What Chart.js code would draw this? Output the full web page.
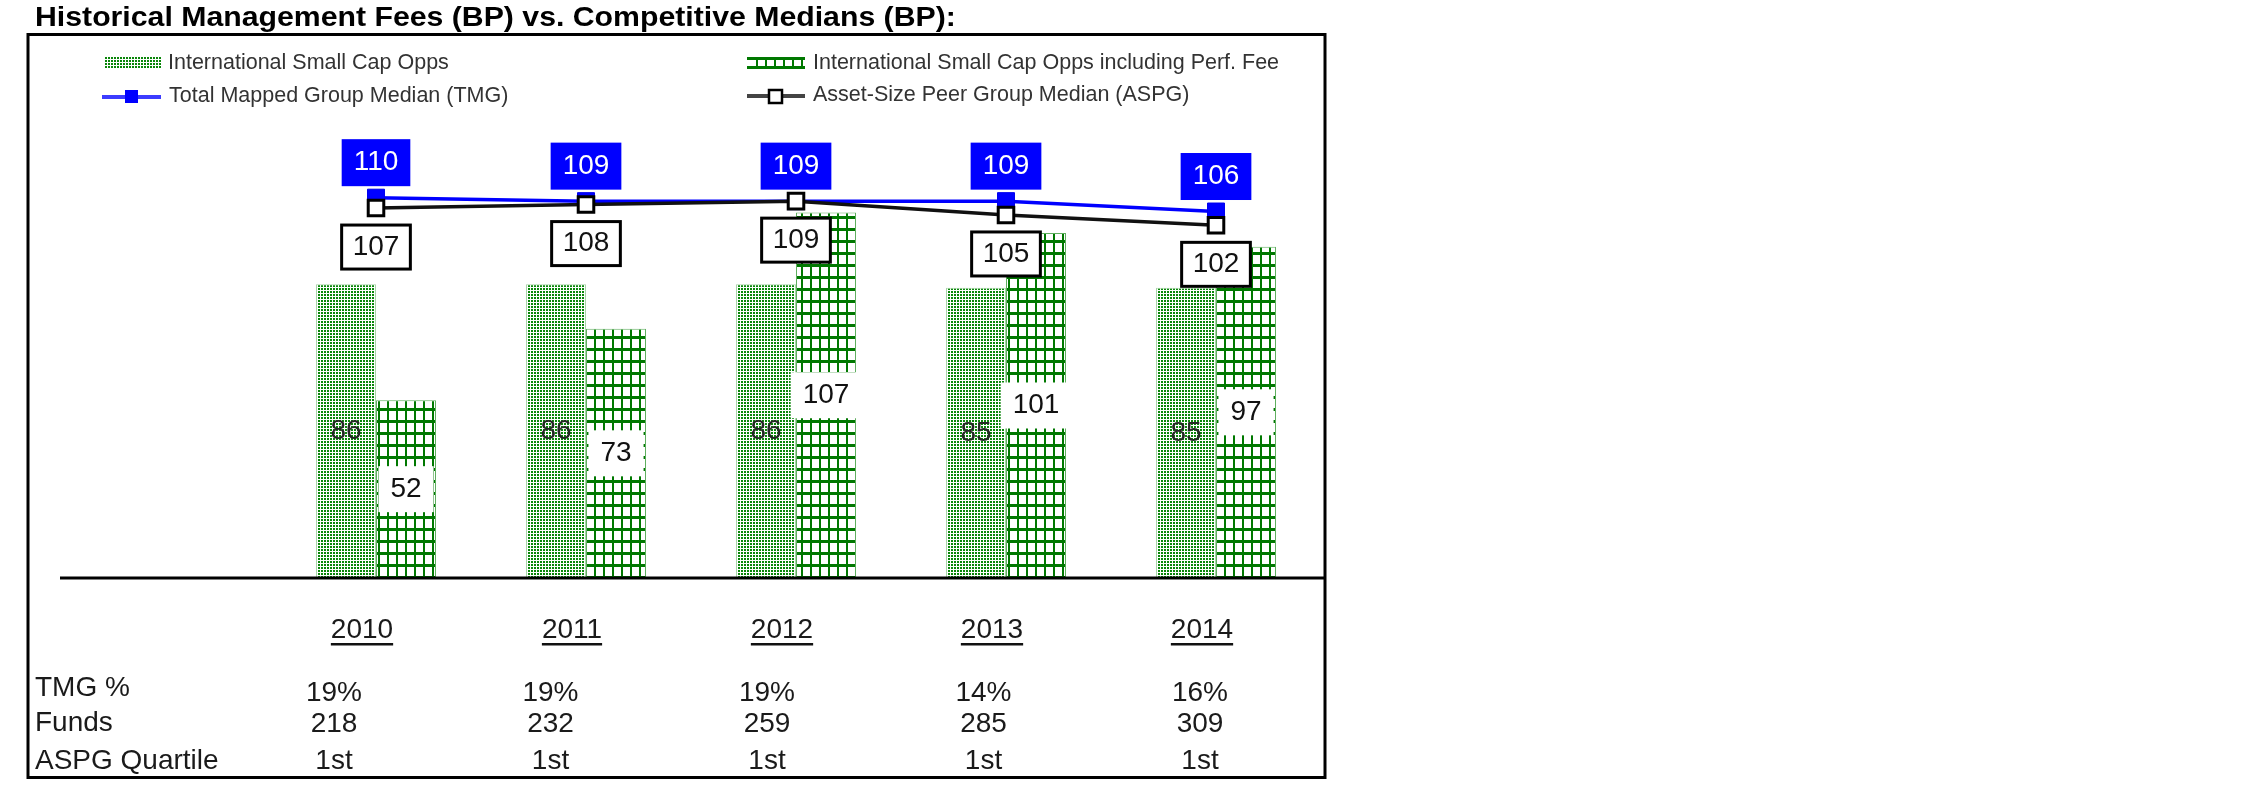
<!DOCTYPE html>
<html>
<head>
<meta charset="utf-8">
<title>Historical Management Fees (BP) vs. Competitive Medians (BP)</title>
<script src="https://cdn.jsdelivr.net/npm/chart.js@4.4.1/dist/chart.umd.min.js"></script>
<style>
    html, body { margin: 0; padding: 0; background: #fff; }
    body { width: 2251px; height: 798px; position: relative; overflow: hidden; font-family: "Liberation Sans", Arial, sans-serif; }
    #wrap { position: absolute; left: 0; top: 0; width: 2251px; height: 798px; }
    .txt { position: absolute; white-space: nowrap; line-height: 1; }
    #title { left: 35px; top: 4px; font-size: 27px; font-weight: bold; color: #000; transform: scaleX(1.12); transform-origin: left top; }
    .leg { font-size: 21.5px; color: #333; }
    .row { font-size: 28px; color: #1a1a1a; }
    .val { width: 140px; text-align: center; }
</style>
</head>
<body>
<div id="wrap"><canvas id="myChart"></canvas></div>
<div id="title" class="txt">Historical Management Fees (BP) vs. Competitive Medians (BP):</div>
<div id="overlay"></div>

<script>
// chart data
const years = ['2010', '2011', '2012', '2013', '2014'];
const intlSmallCap = [86, 86, 86, 85, 85];
const intlSmallCapPerf = [52, 73, 107, 101, 97];
const tmgMedian = [110, 109, 109, 109, 106];
const aspgMedian = [107, 108, 109, 105, 102];

// table under the chart
const rowNames = ['TMG %', 'Funds', 'ASPG Quartile'];
const tmgPct = ['19%', '19%', '19%', '14%', '16%'];
const funds = ['218', '232', '259', '285', '309'];
const aspgQuartile = ['1st', '1st', '1st', '1st', '1st'];

const seriesNames = [
    'International Small Cap Opps',
    'International Small Cap Opps including Perf. Fee',
    'Total Mapped Group Median (TMG)',
    'Asset-Size Peer Group Median (ASPG)'
];

const FONT = '"Liberation Sans", Arial, sans-serif';

// fill patterns for the two bar series
const dotPattern = () => {
    const c = document.createElement('canvas');
    c.width = 3; c.height = 3;
    const g = c.getContext('2d');
    g.fillStyle = '#ffffff';
    g.fillRect(0, 0, 3, 3);
    g.fillStyle = '#0a860a';
    g.fillRect(0, 0, 2, 2);
    return g.createPattern(c, 'repeat');
}

const gridPattern = () => {
    const c = document.createElement('canvas');
    c.width = 9; c.height = 12;
    const g = c.getContext('2d');
    g.fillStyle = '#ffffff';
    g.fillRect(0, 0, 9, 12);
    g.fillStyle = '#007800';
    g.fillRect(0, 0, 2, 12);
    g.fillRect(0, 0, 9, 3);
    return g.createPattern(c, 'repeat');
}

const dots = dotPattern();
const grid = gridPattern();

// html legend text + table text
const overlay = document.getElementById('overlay');
const addText = (text, cls, left, top) => {
    const d = document.createElement('div');
    d.className = 'txt ' + cls;
    d.textContent = text;
    d.style.left = left + 'px';
    d.style.top = top + 'px';
    overlay.appendChild(d);
}

addText(seriesNames[0], 'leg', 168, 51.5);
addText(seriesNames[1], 'leg', 813, 51.5);
addText(seriesNames[2], 'leg', 169, 84.5);
addText(seriesNames[3], 'leg', 813, 84);

addText(rowNames[0], 'row', 35, 673);
addText(rowNames[1], 'row', 35, 708);
addText(rowNames[2], 'row', 35, 746);
const colCenters = [334, 550.5, 767, 983.5, 1200];
colCenters.forEach((cx, i) => {
    addText(tmgPct[i], 'row val', cx - 70, 678);
    addText(funds[i], 'row val', cx - 70, 709);
    addText(aspgQuartile[i], 'row val', cx - 70, 746);
});

const tickShift = -14;

// value labels drawn on top of the marks
const valueLabels = {
    id: 'valueLabels',
    afterDatasetsDraw(chart) {
        const ctx = chart.ctx;
        ctx.save();
        ctx.font = '28px ' + FONT;
        ctx.textAlign = 'center';
        ctx.textBaseline = 'middle';

        chart.getDatasetMeta(0).data.forEach((bar, i) => {
            ctx.fillStyle = '#262626';
            ctx.fillText(intlSmallCap[i], bar.x, (bar.y + bar.base) / 2);
        });

        chart.getDatasetMeta(1).data.forEach((bar, i) => {
            const t = String(intlSmallCapPerf[i]);
            const w = ctx.measureText(t).width + 24;
            const cy = (bar.y + bar.base) / 2;
            ctx.fillStyle = '#ffffff';
            ctx.fillRect(bar.x - w / 2, cy - 23, w, 46);
            ctx.fillStyle = '#111';
            ctx.fillText(t, bar.x, cy);
        });

        chart.getDatasetMeta(2).data.forEach((pt, i) => {
            const t = String(tmgMedian[i]);
            const w = ctx.measureText(t).width + 24;
            const cy = pt.y - 35;
            ctx.fillStyle = '#0000ff';
            ctx.fillRect(pt.x - w / 2, cy - 23.5, w, 47);
            ctx.fillStyle = '#ffffff';
            ctx.fillText(t, pt.x, cy);
        });

        chart.getDatasetMeta(3).data.forEach((pt, i) => {
            const t = String(aspgMedian[i]);
            const w = ctx.measureText(t).width + 22;
            const cy = pt.y + 39;
            ctx.fillStyle = '#ffffff';
            ctx.fillRect(pt.x - w / 2, cy - 22, w, 44);
            ctx.strokeStyle = '#000';
            ctx.lineWidth = 3;
            ctx.strokeRect(pt.x - w / 2, cy - 22, w, 44);
            ctx.fillStyle = '#111';
            ctx.fillText(t, pt.x, cy);
        });
        ctx.restore();
    }
};

// frame, base line, underlined years and legend symbols
const decorations = {
    id: 'decorations',
    afterDraw(chart) {
        const ctx = chart.ctx;
        const base = chart.scales.y.getPixelForValue(0);
        ctx.save();
        ctx.strokeStyle = '#000';
        ctx.lineWidth = 3;
        ctx.strokeRect(28, 34.5, 1297, 743);
        ctx.beginPath();
        ctx.moveTo(60, base);
        ctx.lineTo(1325, base);
        ctx.stroke();

        // underline the year labels
        const xs = chart.scales.x;
        ctx.font = '28px ' + FONT;
        ctx.fillStyle = '#111';
        years.forEach((yr, i) => {
            const cx = xs.getPixelForValue(i) + tickShift;
            const w = ctx.measureText(yr).width;
            ctx.fillRect(cx - w / 2, base + 65, w, 2.5);
        });

        // legend symbols
        ctx.fillStyle = dots;
        ctx.fillRect(104, 57, 57, 11);

        ctx.fillStyle = '#007800';
        ctx.fillRect(747, 57, 58, 3);
        ctx.fillRect(747, 66, 58, 3);
        for (let x = 756; x < 805; x += 9) ctx.fillRect(x, 57, 2, 12);

        ctx.strokeStyle = '#3c3cff';
        ctx.lineWidth = 4;
        ctx.beginPath();
        ctx.moveTo(102, 97);
        ctx.lineTo(161, 97);
        ctx.stroke();
        ctx.fillStyle = '#0000ff';
        ctx.fillRect(125, 90, 13, 13);

        ctx.strokeStyle = '#444';
        ctx.beginPath();
        ctx.moveTo(747, 96);
        ctx.lineTo(805, 96);
        ctx.stroke();
        ctx.fillStyle = '#fff';
        ctx.fillRect(769, 90, 13, 13);
        ctx.strokeStyle = '#000';
        ctx.lineWidth = 2.5;
        ctx.strokeRect(769, 90, 13, 13);
        ctx.restore();
    }
};

const chartEl = document.getElementById('myChart');

const data = {
    labels: years,
    datasets: [{
        label: seriesNames[0],
        data: intlSmallCap,
        backgroundColor: dots,
        borderColor: '#a8d4a8',
        borderWidth: 1,
        categoryPercentage: 0.5714,
        barPercentage: 1.0,
        order: 2
    }, {
        label: seriesNames[1],
        data: intlSmallCapPerf,
        backgroundColor: grid,
        borderColor: '#5fae5f',
        borderWidth: 1,
        categoryPercentage: 0.5714,
        barPercentage: 1.0,
        order: 3
    }, {
        type: 'line',
        label: seriesNames[2],
        data: tmgMedian,
        yAxisID: 'y2',
        borderColor: '#0000ff',
        borderWidth: 3.5,
        pointStyle: 'rect',
        pointRadius: 12,
        pointBackgroundColor: '#0000ff',
        pointBorderColor: '#0000ee',
        pointBorderWidth: 1,
        order: 1
    }, {
        type: 'line',
        label: seriesNames[3],
        data: aspgMedian,
        yAxisID: 'y2',
        borderColor: '#111111',
        borderWidth: 3.5,
        pointStyle: 'rect',
        pointRadius: 11,
        pointBackgroundColor: '#ffffff',
        pointBorderColor: '#000000',
        pointBorderWidth: 3,
        order: 0
    }]
};

const config = {
    type: 'bar',
    data: data,
    options: {
        responsive: true,
        maintainAspectRatio: false,
        animation: false,
        events: [],
        layout: {
            padding: { left: 271, right: 930, top: 151, bottom: 116.4 }
        },
        scales: {
            x: {
                offset: true,
                grid: { display: false, drawTicks: false },
                border: { display: false },
                ticks: {
                    color: '#1a1a1a',
                    font: { family: FONT, size: 28 },
                    padding: 35,
                    labelOffset: tickShift,
                    autoSkip: false,
                    maxRotation: 0
                }
            },
            y: {
                display: false,
                min: 0,
                max: 125
            },
            // the median lines sit on a slightly taller scale, as in the source chart
            y2: {
                display: false,
                min: 0,
                max: 123.5
            }
        },
        plugins: {
            legend: { display: false },
            tooltip: { enabled: false }
        }
    },
    plugins: [valueLabels, decorations]
};

const myChart = new Chart(chartEl, config);
</script>
</body>
</html>
